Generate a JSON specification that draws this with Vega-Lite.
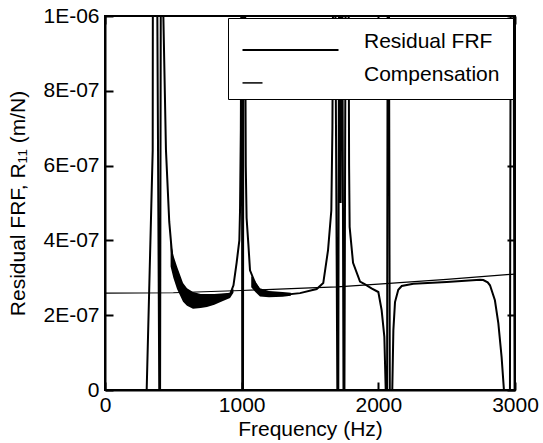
{
  "$schema": "https://vega.github.io/schema/vega-lite/v6.json",
  "width": 410,
  "height": 374,
  "autosize": {"type": "none"},
  "padding": {"left": 105, "top": 16, "right": 28, "bottom": 53},
  "background": "white",
  "datasets": {
    "residual": [
      {"f": 0, "r": -5e-7}, {"f": 250, "r": -3e-7}, {"f": 300, "r": -1e-7}, {"f": 305, "r": 0},
      {"f": 327, "r": 3.2e-7}, {"f": 349, "r": 6.4e-7}, {"f": 350, "r": 1.0e-6}, {"f": 352, "r": 1.4e-6},
      {"f": 378, "r": 1.4e-6}, {"f": 383, "r": 1.0e-6}, {"f": 390, "r": 5e-7}, {"f": 397, "r": 0},
      {"f": 399, "r": -3e-7}, {"f": 401, "r": -3e-7}, {"f": 403, "r": 0}, {"f": 408, "r": 1.0e-6},
      {"f": 410, "r": 1.4e-6}, {"f": 422, "r": 1.4e-6}, {"f": 427, "r": 1.0e-6}, {"f": 446, "r": 6.42e-7},
      {"f": 470, "r": 4.5e-7}, {"f": 488, "r": 3.74e-7}, {"f": 500, "r": 3.3e-7}, {"f": 527, "r": 3.0e-7},
      {"f": 571, "r": 2.6e-7}, {"f": 600, "r": 2.48e-7}, {"f": 644, "r": 2.4e-7}, {"f": 700, "r": 2.38e-7},
      {"f": 800, "r": 2.43e-7}, {"f": 850, "r": 2.48e-7}, {"f": 915, "r": 2.56e-7}, {"f": 940, "r": 2.8e-7},
      {"f": 963, "r": 3.4e-7}, {"f": 983, "r": 4.0e-7}, {"f": 988, "r": 4.8e-7}, {"f": 994, "r": 7.0e-7},
      {"f": 997, "r": 1.0e-6}, {"f": 999, "r": 1.4e-6}, {"f": 1001, "r": 1.4e-6}, {"f": 1005, "r": -3e-7},
      {"f": 1009, "r": -3e-7}, {"f": 1013, "r": 1.4e-6}, {"f": 1022, "r": 1.4e-6}, {"f": 1026, "r": 1.0e-6},
      {"f": 1030, "r": 6.0e-7}, {"f": 1036, "r": 4.6e-7}, {"f": 1049, "r": 3.9e-7}, {"f": 1061, "r": 3.2e-7},
      {"f": 1100, "r": 2.85e-7}, {"f": 1134, "r": 2.65e-7}, {"f": 1200, "r": 2.57e-7}, {"f": 1300, "r": 2.54e-7},
      {"f": 1427, "r": 2.59e-7}, {"f": 1549, "r": 2.7e-7}, {"f": 1597, "r": 2.86e-7}, {"f": 1632, "r": 3.74e-7},
      {"f": 1656, "r": 4.8e-7}, {"f": 1664, "r": 7.0e-7}, {"f": 1668, "r": 1.0e-6}, {"f": 1670, "r": 1.4e-6},
      {"f": 1682, "r": 1.4e-6}, {"f": 1686, "r": 1.0e-6}, {"f": 1700, "r": 0}, {"f": 1702, "r": -3e-7},
      {"f": 1705, "r": -3e-7}, {"f": 1707, "r": 0}, {"f": 1712, "r": 1.0e-6}, {"f": 1714, "r": 1.4e-6},
      {"f": 1718, "r": 1.4e-6}, {"f": 1720, "r": 1.0e-6}, {"f": 1724, "r": 5.0e-7}, {"f": 1728, "r": 1.0e-6},
      {"f": 1730, "r": 1.4e-6}, {"f": 1734, "r": 1.4e-6}, {"f": 1737, "r": 1.0e-6}, {"f": 1745, "r": 0},
      {"f": 1747, "r": -3e-7}, {"f": 1750, "r": -3e-7}, {"f": 1752, "r": 0}, {"f": 1760, "r": 1.0e-6},
      {"f": 1762, "r": 1.4e-6}, {"f": 1778, "r": 1.4e-6}, {"f": 1783, "r": 1.0e-6}, {"f": 1786, "r": 6.0e-7},
      {"f": 1790, "r": 4.36e-7}, {"f": 1815, "r": 3.4e-7}, {"f": 1866, "r": 2.9e-7}, {"f": 1900, "r": 2.83e-7},
      {"f": 1950, "r": 2.72e-7}, {"f": 2000, "r": 2.62e-7}, {"f": 2024, "r": 2.14e-7}, {"f": 2044, "r": 1.42e-7},
      {"f": 2054, "r": 0}, {"f": 2057, "r": -3e-7}, {"f": 2061, "r": -3e-7}, {"f": 2064, "r": 0},
      {"f": 2068, "r": 1.0e-6}, {"f": 2070, "r": 1.4e-6}, {"f": 2074, "r": 1.4e-6}, {"f": 2078, "r": 1.0e-6},
      {"f": 2084, "r": 0}, {"f": 2087, "r": -3e-7}, {"f": 2098, "r": -3e-7}, {"f": 2102, "r": 0},
      {"f": 2110, "r": 1.6e-7}, {"f": 2122, "r": 2.35e-7}, {"f": 2146, "r": 2.68e-7}, {"f": 2171, "r": 2.78e-7},
      {"f": 2256, "r": 2.84e-7}, {"f": 2500, "r": 2.89e-7}, {"f": 2744, "r": 2.95e-7}, {"f": 2768, "r": 2.94e-7},
      {"f": 2800, "r": 2.88e-7}, {"f": 2817, "r": 2.8e-7}, {"f": 2853, "r": 2.4e-7}, {"f": 2878, "r": 1.79e-7},
      {"f": 2902, "r": 8.8e-8}, {"f": 2919, "r": 0}, {"f": 2925, "r": -3e-7}, {"f": 2955, "r": -3e-7},
      {"f": 2963, "r": 0}, {"f": 2968, "r": 1.0e-6}, {"f": 2972, "r": 1.4e-6}, {"f": 2985, "r": 1.4e-6},
      {"f": 2990, "r": 1.0e-6}, {"f": 2997, "r": 0}, {"f": 3000, "r": -3e-7}
    ],
    "scatter": [
      {"part": "a", "f": 480, "lo": 3.3e-7, "hi": 4.0e-7},
      {"part": "a", "f": 500, "lo": 3.0e-7, "hi": 3.6e-7},
      {"part": "a", "f": 527, "lo": 2.7e-7, "hi": 3.3e-7},
      {"part": "a", "f": 571, "lo": 2.36e-7, "hi": 2.86e-7},
      {"part": "a", "f": 600, "lo": 2.25e-7, "hi": 2.72e-7},
      {"part": "a", "f": 644, "lo": 2.17e-7, "hi": 2.62e-7},
      {"part": "a", "f": 700, "lo": 2.19e-7, "hi": 2.57e-7},
      {"part": "a", "f": 746, "lo": 2.22e-7, "hi": 2.57e-7},
      {"part": "a", "f": 800, "lo": 2.28e-7, "hi": 2.57e-7},
      {"part": "a", "f": 850, "lo": 2.36e-7, "hi": 2.58e-7},
      {"part": "a", "f": 915, "lo": 2.46e-7, "hi": 2.6e-7},
      {"part": "a", "f": 940, "lo": 2.6e-7, "hi": 2.7e-7},
      {"part": "b", "f": 1070, "lo": 2.75e-7, "hi": 3.05e-7},
      {"part": "b", "f": 1100, "lo": 2.62e-7, "hi": 2.9e-7},
      {"part": "b", "f": 1134, "lo": 2.5e-7, "hi": 2.72e-7},
      {"part": "b", "f": 1200, "lo": 2.48e-7, "hi": 2.65e-7},
      {"part": "b", "f": 1300, "lo": 2.49e-7, "hi": 2.62e-7},
      {"part": "b", "f": 1360, "lo": 2.52e-7, "hi": 2.6e-7}
    ],
    "compensation": [
      {"f": 0, "r": 2.59e-7}, {"f": 500, "r": 2.6e-7}, {"f": 1000, "r": 2.66e-7}, {"f": 1500, "r": 2.73e-7},
      {"f": 1700, "r": 2.76e-7}, {"f": 2000, "r": 2.83e-7}, {"f": 2500, "r": 2.96e-7}, {"f": 3000, "r": 3.1e-7}
    ]
  },
  "layer": [
    {
      "data": {"name": "scatter"},
      "mark": {"type": "area", "color": "black", "clip": true},
      "encoding": {
        "x": {
          "field": "f", "type": "quantitative",
          "scale": {"domain": [0, 3000], "nice": false, "zero": false},
          "axis": {"orient": "bottom", "values": [0, 1000, 2000, 3000], "format": "d", "title": "Frequency (Hz)", "labelPadding": 12, "titlePadding": 3}
        },
        "y": {
          "field": "lo", "type": "quantitative",
          "scale": {"domain": [0, 1e-6], "nice": false},
          "axis": {
            "orient": "left",
            "values": [0, 2e-7, 4e-7, 6e-7, 8e-7, 1e-6],
            "labelExpr": "datum.value === 0 ? '0' : replace(upper(format(datum.value, '.0e')), '-', '-0')",
            "title": "Residual FRF, R₁₁ (m/N)",
            "labelPadding": 14,
            "titlePadding": 14
          }
        },
        "y2": {"field": "hi"},
        "detail": {"field": "part"}
      }
    },
    {
      "data": {"name": "residual"},
      "mark": {"type": "line", "strokeWidth": 2, "clip": true},
      "encoding": {
        "x": {
          "field": "f", "type": "quantitative",
          "axis": {"orient": "top", "values": [0, 1000, 2000, 3000], "labels": false, "title": null, "domain": false}
        },
        "y": {
          "field": "r", "type": "quantitative",
          "axis": {"orient": "right", "values": [0, 2e-7, 4e-7, 6e-7, 8e-7, 1e-6], "labels": false, "title": null, "domain": false}
        },
        "color": {
          "datum": "Residual FRF", "type": "nominal",
          "scale": {"domain": ["Residual FRF", "Compensation"], "range": ["black", "black"]},
          "legend": {
            "orient": "top-right",
            "offset": 2,
            "title": null,
            "strokeColor": "black",
            "fillColor": "white",
            "padding": 13,
            "symbolType": "M-1.5,1.4H14.5",
            "symbolSize": 144,
            "symbolStrokeColor": "black",
            "labelFontSize": 21,
            "labelColor": "black",
            "labelOffset": 102,
            "labelLimit": 300,
            "rowPadding": 9,
            "encode": {
              "symbols": {
                "update": {
                  "strokeDash": {"signal": "datum.value === 'Compensation' ? [20, 300] : null"},
                  "strokeWidth": {"signal": "datum.value === 'Compensation' ? 1.5 : 2"}
                }
              }
            }
          }
        },
        "order": {"field": "f", "type": "quantitative"}
      }
    },
    {
      "data": {"name": "compensation"},
      "mark": {"type": "line", "strokeWidth": 1.2, "clip": true},
      "encoding": {
        "x": {"field": "f", "type": "quantitative", "axis": null},
        "y": {"field": "r", "type": "quantitative", "axis": null},
        "color": {"datum": "Compensation", "type": "nominal"}
      }
    }
  ],
  "resolve": {"axis": {"x": "independent", "y": "independent"}},
  "config": {
    "font": "Liberation Sans",
    "view": {"stroke": "black", "strokeWidth": 2},
    "axis": {
      "grid": false,
      "domainColor": "black",
      "domainWidth": 2,
      "tickColor": "black",
      "tickWidth": 2,
      "tickSize": -8,
      "labelColor": "black",
      "labelFontSize": 21,
      "labelFlush": false,
      "labelOverlap": false,
      "titleFontSize": 21,
      "titleFontWeight": "normal",
      "titleColor": "black"
    }
  }
}
